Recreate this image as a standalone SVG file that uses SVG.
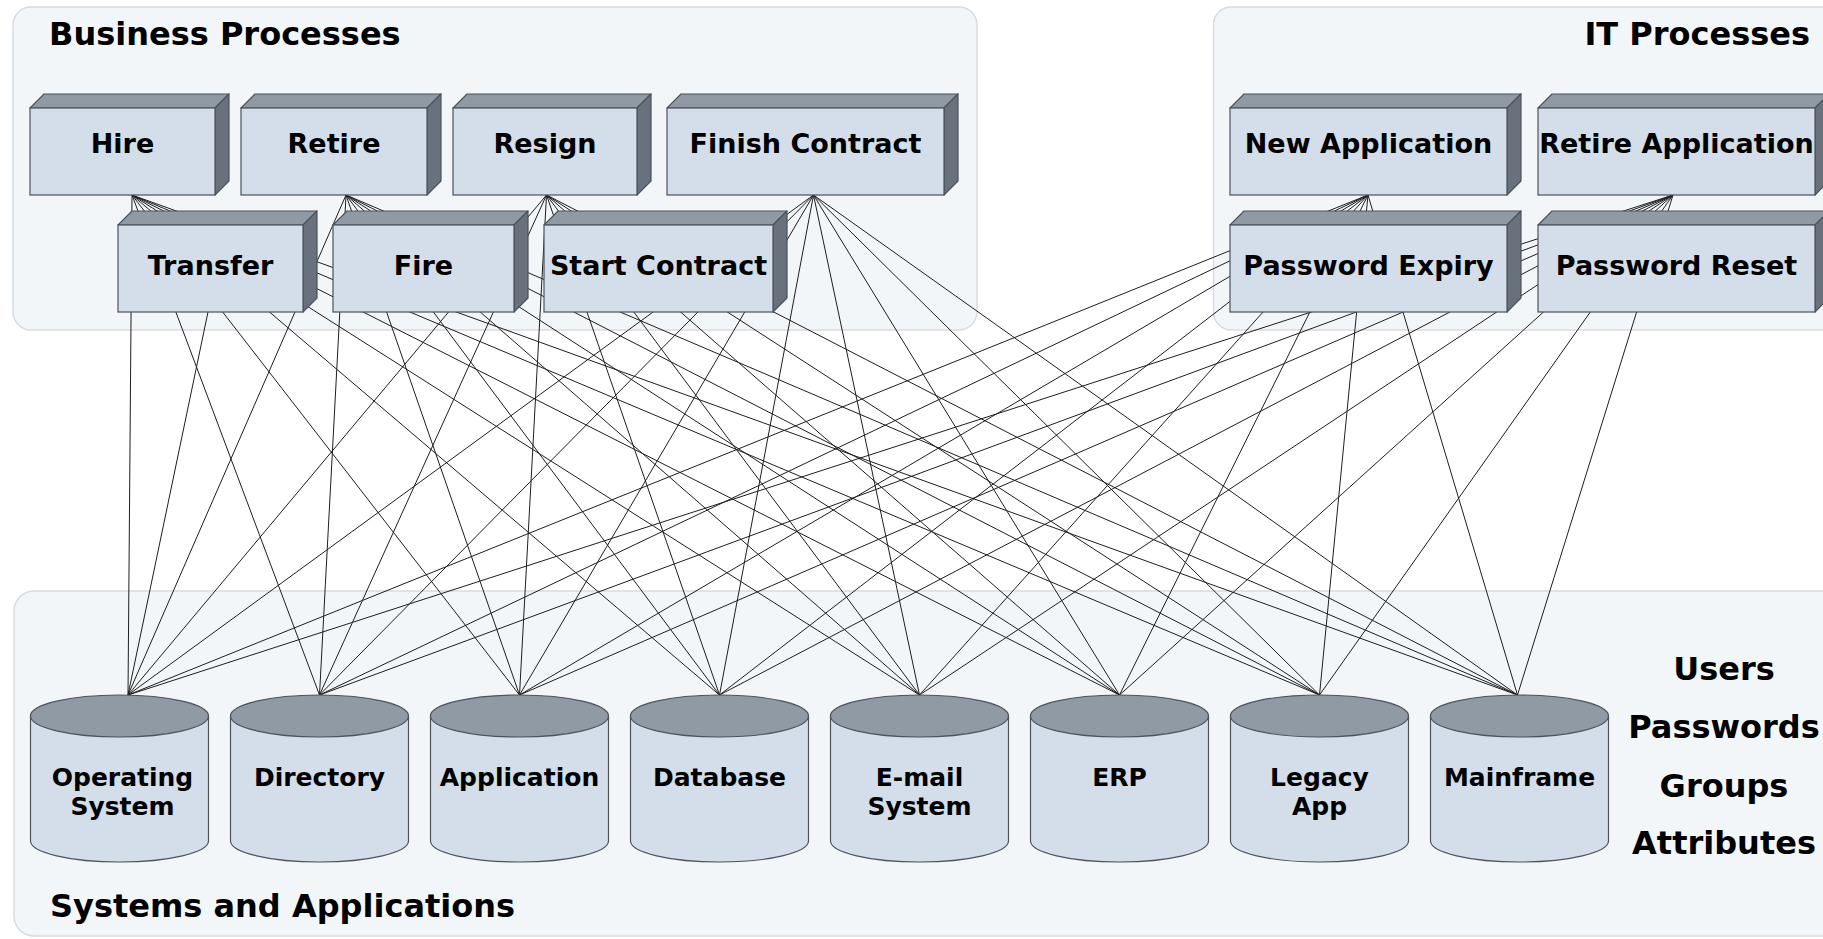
<svg xmlns="http://www.w3.org/2000/svg" width="1823" height="939" viewBox="0 0 1823 939">
<style>
.panel{fill:#f3f6f9;stroke:#d8dce1;stroke-width:1.5}
.title{font-family:"DejaVu Sans",Verdana,sans-serif;font-weight:bold;font-size:32px;fill:#000}
.front{fill:#d3deea;stroke:#4b535b;stroke-width:1.2}
.top{fill:#8f9aa5;stroke:#4b535b;stroke-width:1.2;stroke-linejoin:round}
.side{fill:#69727c;stroke:#4b535b;stroke-width:1.2;stroke-linejoin:round}
.blabel{font-family:"DejaVu Sans",Verdana,sans-serif;font-weight:bold;font-size:27px;fill:#000;text-anchor:middle}
.cbody{fill:#d3deea;stroke:#4b535b;stroke-width:1.2}
.ctop{fill:#8f9aa5;stroke:#4b535b;stroke-width:1.2}
.clabel{font-family:"DejaVu Sans",Verdana,sans-serif;font-weight:bold;font-size:25px;fill:#000;text-anchor:middle}
.attr{font-family:"DejaVu Sans",Verdana,sans-serif;font-weight:bold;font-size:32px;fill:#000;text-anchor:middle}
.conn line{stroke:#1e1e1e;stroke-width:1}
</style>
<defs>
<path id="cyl" d="M-89,716 L-89,841 A89,21 0 0 0 89,841 L89,716 Z"/>
</defs>
<rect width="1823" height="939" fill="#ffffff"/>

<g id="panel-business">
<rect class="panel" x="13" y="7" width="964" height="323" rx="18"/>
<text class="title" x="49" y="45">Business Processes</text>
</g>
<g id="panel-it">
<rect class="panel" x="1213.5" y="7" width="640" height="323" rx="18"/>
<text class="title" x="1810" y="45" text-anchor="end">IT Processes</text>
</g>
<g id="panel-systems">
<rect class="panel" x="14" y="591" width="1840" height="345" rx="20"/>
<text class="title" x="50" y="917">Systems and Applications</text>
</g>

<g id="connectors" class="conn">
<line x1="132" y1="195" x2="128" y2="695"/>
<line x1="132" y1="195" x2="319.5" y2="695"/>
<line x1="132" y1="195" x2="519.5" y2="695"/>
<line x1="132" y1="195" x2="719.5" y2="695"/>
<line x1="132" y1="195" x2="919.5" y2="695"/>
<line x1="132" y1="195" x2="1119.5" y2="695"/>
<line x1="132" y1="195" x2="1319.5" y2="695"/>
<line x1="132" y1="195" x2="1517.5" y2="695"/>
<line x1="346" y1="195" x2="128" y2="695"/>
<line x1="346" y1="195" x2="319.5" y2="695"/>
<line x1="346" y1="195" x2="519.5" y2="695"/>
<line x1="346" y1="195" x2="719.5" y2="695"/>
<line x1="346" y1="195" x2="919.5" y2="695"/>
<line x1="346" y1="195" x2="1119.5" y2="695"/>
<line x1="346" y1="195" x2="1319.5" y2="695"/>
<line x1="346" y1="195" x2="1517.5" y2="695"/>
<line x1="546.5" y1="195" x2="128" y2="695"/>
<line x1="546.5" y1="195" x2="319.5" y2="695"/>
<line x1="546.5" y1="195" x2="519.5" y2="695"/>
<line x1="546.5" y1="195" x2="719.5" y2="695"/>
<line x1="546.5" y1="195" x2="919.5" y2="695"/>
<line x1="546.5" y1="195" x2="1119.5" y2="695"/>
<line x1="546.5" y1="195" x2="1319.5" y2="695"/>
<line x1="546.5" y1="195" x2="1517.5" y2="695"/>
<line x1="813.5" y1="195" x2="128" y2="695"/>
<line x1="813.5" y1="195" x2="319.5" y2="695"/>
<line x1="813.5" y1="195" x2="519.5" y2="695"/>
<line x1="813.5" y1="195" x2="719.5" y2="695"/>
<line x1="813.5" y1="195" x2="919.5" y2="695"/>
<line x1="813.5" y1="195" x2="1119.5" y2="695"/>
<line x1="813.5" y1="195" x2="1319.5" y2="695"/>
<line x1="813.5" y1="195" x2="1517.5" y2="695"/>
<line x1="1368" y1="195" x2="128" y2="695"/>
<line x1="1368" y1="195" x2="319.5" y2="695"/>
<line x1="1368" y1="195" x2="519.5" y2="695"/>
<line x1="1368" y1="195" x2="719.5" y2="695"/>
<line x1="1368" y1="195" x2="919.5" y2="695"/>
<line x1="1368" y1="195" x2="1119.5" y2="695"/>
<line x1="1368" y1="195" x2="1319.5" y2="695"/>
<line x1="1368" y1="195" x2="1517.5" y2="695"/>
<line x1="1673" y1="195" x2="128" y2="695"/>
<line x1="1673" y1="195" x2="319.5" y2="695"/>
<line x1="1673" y1="195" x2="519.5" y2="695"/>
<line x1="1673" y1="195" x2="719.5" y2="695"/>
<line x1="1673" y1="195" x2="919.5" y2="695"/>
<line x1="1673" y1="195" x2="1119.5" y2="695"/>
<line x1="1673" y1="195" x2="1319.5" y2="695"/>
<line x1="1673" y1="195" x2="1517.5" y2="695"/>
<line x1="210.5" y1="300" x2="128" y2="695"/>
</g>

<g id="hire">
<polygon class="top" points="30,108 44,94 229,94 215,108"/>
<polygon class="side" points="215,108 229,94 229,181 215,195"/>
<rect class="front" x="30" y="108" width="185" height="87"/>
<text class="blabel" x="122.5" y="153">Hire</text>
</g>
<g id="retire">
<polygon class="top" points="241,108 255,94 441,94 427,108"/>
<polygon class="side" points="427,108 441,94 441,181 427,195"/>
<rect class="front" x="241" y="108" width="186" height="87"/>
<text class="blabel" x="334" y="153">Retire</text>
</g>
<g id="resign">
<polygon class="top" points="453,108 467,94 651,94 637,108"/>
<polygon class="side" points="637,108 651,94 651,181 637,195"/>
<rect class="front" x="453" y="108" width="184" height="87"/>
<text class="blabel" x="545" y="153">Resign</text>
</g>
<g id="finish-contract">
<polygon class="top" points="667,108 681,94 958,94 944,108"/>
<polygon class="side" points="944,108 958,94 958,181 944,195"/>
<rect class="front" x="667" y="108" width="277" height="87"/>
<text class="blabel" x="805.5" y="153">Finish Contract</text>
</g>
<g id="new-application">
<polygon class="top" points="1230,108 1244,94 1521,94 1507,108"/>
<polygon class="side" points="1507,108 1521,94 1521,181 1507,195"/>
<rect class="front" x="1230" y="108" width="277" height="87"/>
<text class="blabel" x="1368.5" y="153">New Application</text>
</g>
<g id="retire-application">
<polygon class="top" points="1538,108 1552,94 1829,94 1815,108"/>
<polygon class="side" points="1815,108 1829,94 1829,181 1815,195"/>
<rect class="front" x="1538" y="108" width="277" height="87"/>
<text class="blabel" x="1676.5" y="153">Retire Application</text>
</g>

<g id="transfer">
<polygon class="top" points="118,225 132,211 317,211 303,225"/>
<polygon class="side" points="303,225 317,211 317,298 303,312"/>
<rect class="front" x="118" y="225" width="185" height="87"/>
<text class="blabel" x="210.5" y="275">Transfer</text>
</g>
<g id="fire">
<polygon class="top" points="333,225 347,211 528,211 514,225"/>
<polygon class="side" points="514,225 528,211 528,298 514,312"/>
<rect class="front" x="333" y="225" width="181" height="87"/>
<text class="blabel" x="423.5" y="275">Fire</text>
</g>
<g id="start-contract">
<polygon class="top" points="544,225 558,211 787,211 773,225"/>
<polygon class="side" points="773,225 787,211 787,298 773,312"/>
<rect class="front" x="544" y="225" width="229" height="87"/>
<text class="blabel" x="658.5" y="275">Start Contract</text>
</g>
<g id="password-expiry">
<polygon class="top" points="1230,225 1244,211 1521,211 1507,225"/>
<polygon class="side" points="1507,225 1521,211 1521,298 1507,312"/>
<rect class="front" x="1230" y="225" width="277" height="87"/>
<text class="blabel" x="1368.5" y="275">Password Expiry</text>
</g>
<g id="password-reset">
<polygon class="top" points="1538,225 1552,211 1829,211 1815,225"/>
<polygon class="side" points="1815,225 1829,211 1829,298 1815,312"/>
<rect class="front" x="1538" y="225" width="277" height="87"/>
<text class="blabel" x="1676.5" y="275">Password Reset</text>
</g>

<g id="operating-system" transform="translate(119.5,0)">
<use href="#cyl" class="cbody"/>
<ellipse class="ctop" cx="0" cy="716" rx="89" ry="21"/>
<text class="clabel" x="3" y="786">Operating</text>
<text class="clabel" x="3" y="815">System</text>
</g>
<g id="directory" transform="translate(319.5,0)">
<use href="#cyl" class="cbody"/>
<ellipse class="ctop" cx="0" cy="716" rx="89" ry="21"/>
<text class="clabel" x="0" y="786">Directory</text>
</g>
<g id="application" transform="translate(519.5,0)">
<use href="#cyl" class="cbody"/>
<ellipse class="ctop" cx="0" cy="716" rx="89" ry="21"/>
<text class="clabel" x="0" y="786">Application</text>
</g>
<g id="database" transform="translate(719.5,0)">
<use href="#cyl" class="cbody"/>
<ellipse class="ctop" cx="0" cy="716" rx="89" ry="21"/>
<text class="clabel" x="0" y="786">Database</text>
</g>
<g id="email-system" transform="translate(919.5,0)">
<use href="#cyl" class="cbody"/>
<ellipse class="ctop" cx="0" cy="716" rx="89" ry="21"/>
<text class="clabel" x="0" y="786">E-mail</text>
<text class="clabel" x="0" y="815">System</text>
</g>
<g id="erp" transform="translate(1119.5,0)">
<use href="#cyl" class="cbody"/>
<ellipse class="ctop" cx="0" cy="716" rx="89" ry="21"/>
<text class="clabel" x="0" y="786">ERP</text>
</g>
<g id="legacy-app" transform="translate(1319.5,0)">
<use href="#cyl" class="cbody"/>
<ellipse class="ctop" cx="0" cy="716" rx="89" ry="21"/>
<text class="clabel" x="0" y="786">Legacy</text>
<text class="clabel" x="0" y="815">App</text>
</g>
<g id="mainframe" transform="translate(1519.5,0)">
<use href="#cyl" class="cbody"/>
<ellipse class="ctop" cx="0" cy="716" rx="89" ry="21"/>
<text class="clabel" x="0" y="786">Mainframe</text>
</g>

<g id="attributes-list">
<text class="attr" x="1724" y="680">Users</text>
<text class="attr" x="1724" y="738">Passwords</text>
<text class="attr" x="1724" y="797">Groups</text>
<text class="attr" x="1724" y="854">Attributes</text>
</g>
</svg>
